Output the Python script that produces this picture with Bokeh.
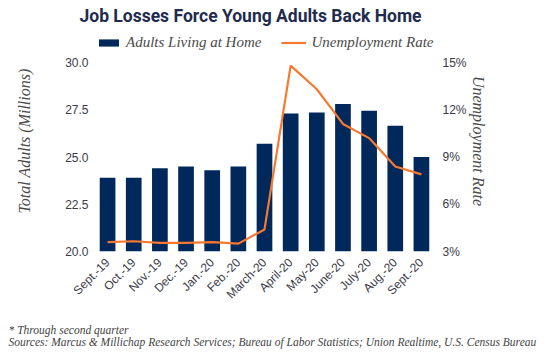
from bokeh.plotting import figure
from bokeh.models import (FactorRange, Range1d, LinearAxis, FixedTicker, NumeralTickFormatter,
                          PrintfTickFormatter, Legend, LegendItem, Title)
from bokeh.embed import file_html
from bokeh.resources import INLINE
from math import pi

# ---- data ----
months = ["Sept.-19", "Oct.-19", "Nov.-19", "Dec.-19", "Jan.-20", "Feb.-20", "March-20",
          "April-20", "May-20", "June-20", "July-20", "Aug.-20", "Sept.-20"]
adults_at_home = [23.9, 23.9, 24.4, 24.5, 24.3, 24.5, 25.7, 27.3, 27.35, 27.8, 27.45, 26.65, 25.0]
unemployment_rate = [3.6, 3.65, 3.55, 3.55, 3.6, 3.5, 4.4, 14.8, 13.3, 11.1, 10.2, 8.4, 7.9]
left_ticks = [20.0, 22.5, 25.0, 27.5, 30.0]
right_ticks = [3, 6, 9, 12, 15]

title_text = "Job Losses Force Young Adults Back Home"
footnote = "* Through second quarter"
sources = ("Sources: Marcus & Millichap Research Services; Bureau of Labor Statistics; "
           "Union Realtime, U.S. Census Bureau")

NAVY = "#00285a"
ORANGE = "#f7782f"
TEXT = "#3a3a48"
SERIF = "Liberation Serif"
SANS = "Liberation Sans"

# layout: ticked span occupies 189 px; frame extends 32 px above it to hold the legend
TICK_PX = 189
HEADROOM_PX = 32
y_lo, y_hi = left_ticks[0], left_ticks[-1]
r_lo, r_hi = right_ticks[0], right_ticks[-1]
y_top = y_hi + HEADROOM_PX * (y_hi - y_lo) / TICK_PX
r_top = r_hi + HEADROOM_PX * (r_hi - r_lo) / TICK_PX

p = figure(width=552, height=362, x_range=FactorRange(*months),
           y_range=Range1d(y_lo, y_top), output_backend="svg", toolbar_location=None,
           title=None, min_border_left=94, min_border_right=118,
           min_border_top=30, min_border_bottom=111)
p.extra_y_ranges = {"rate": Range1d(r_lo, r_top)}
p.outline_line_color = None
p.grid.grid_line_color = None

bars = p.vbar(x=months, top=adults_at_home, bottom=y_lo, width=0.6,
              fill_color=NAVY, line_color=None)
line = p.line(x=months, y=unemployment_rate, y_range_name="rate",
              line_color=ORANGE, line_width=2.2)

ya = p.yaxis[0]
ya.ticker = FixedTicker(ticks=left_ticks)
ya.formatter = NumeralTickFormatter(format="0.0")
ya.axis_label = "Total Adults (Millions)"

ra = LinearAxis(y_range_name="rate", ticker=FixedTicker(ticks=right_ticks),
                formatter=PrintfTickFormatter(format="%d%%"),
                axis_label="Unemployment Rate")
p.add_layout(ra, "right")

xa = p.xaxis[0]
for ax in [ya, ra, xa]:
    ax.axis_line_color = None
    ax.major_tick_line_color = None
    ax.minor_tick_line_color = None
    ax.major_tick_out = 0
    ax.minor_tick_out = 0
    ax.major_label_text_font = SANS
    ax.major_label_text_font_size = "12px"
    ax.major_label_text_color = TEXT
for ax in [ya, ra]:
    ax.axis_label_text_font = SERIF
    ax.axis_label_text_font_style = "italic"
    ax.axis_label_text_font_size = "16px"
    ax.axis_label_text_color = "#4a4a4a"
ya.major_label_standoff = 6
ya.axis_label_standoff = 29
ra.major_label_standoff = 8
ra.axis_label_standoff = 0

xa.major_label_orientation = pi / 4
xa.major_label_standoff = 9

legend = Legend(items=[LegendItem(label="Adults Living at Home", renderers=[bars]),
                       LegendItem(label="Unemployment Rate", renderers=[line])],
                orientation="horizontal", location="top_left",
                padding=0, margin=2, spacing=20,
                glyph_width=25, glyph_height=9, label_height=20, label_standoff=5,
                label_text_font=SERIF, label_text_font_style="italic",
                label_text_font_size="15px", label_text_color="#4a4a4a",
                border_line_color=None, background_fill_alpha=0)
p.add_layout(legend, "center")

p.add_layout(Title(text=title_text, align="left", offset=-15, standoff=6,
                   vertical_align="top",
                   text_font="Roboto", text_font_style="bold", text_font_size="17.5px",
                   text_color="#1e2b4e"), "above")

p.add_layout(Title(text=footnote + "\n" + sources, align="left", offset=-86, standoff=24,
                   vertical_align="bottom",
                   text_font=SERIF, text_font_style="italic", text_font_size="11.5px",
                   text_color="#444444"), "below")

open("out.html", "w").write(file_html(p, INLINE))
